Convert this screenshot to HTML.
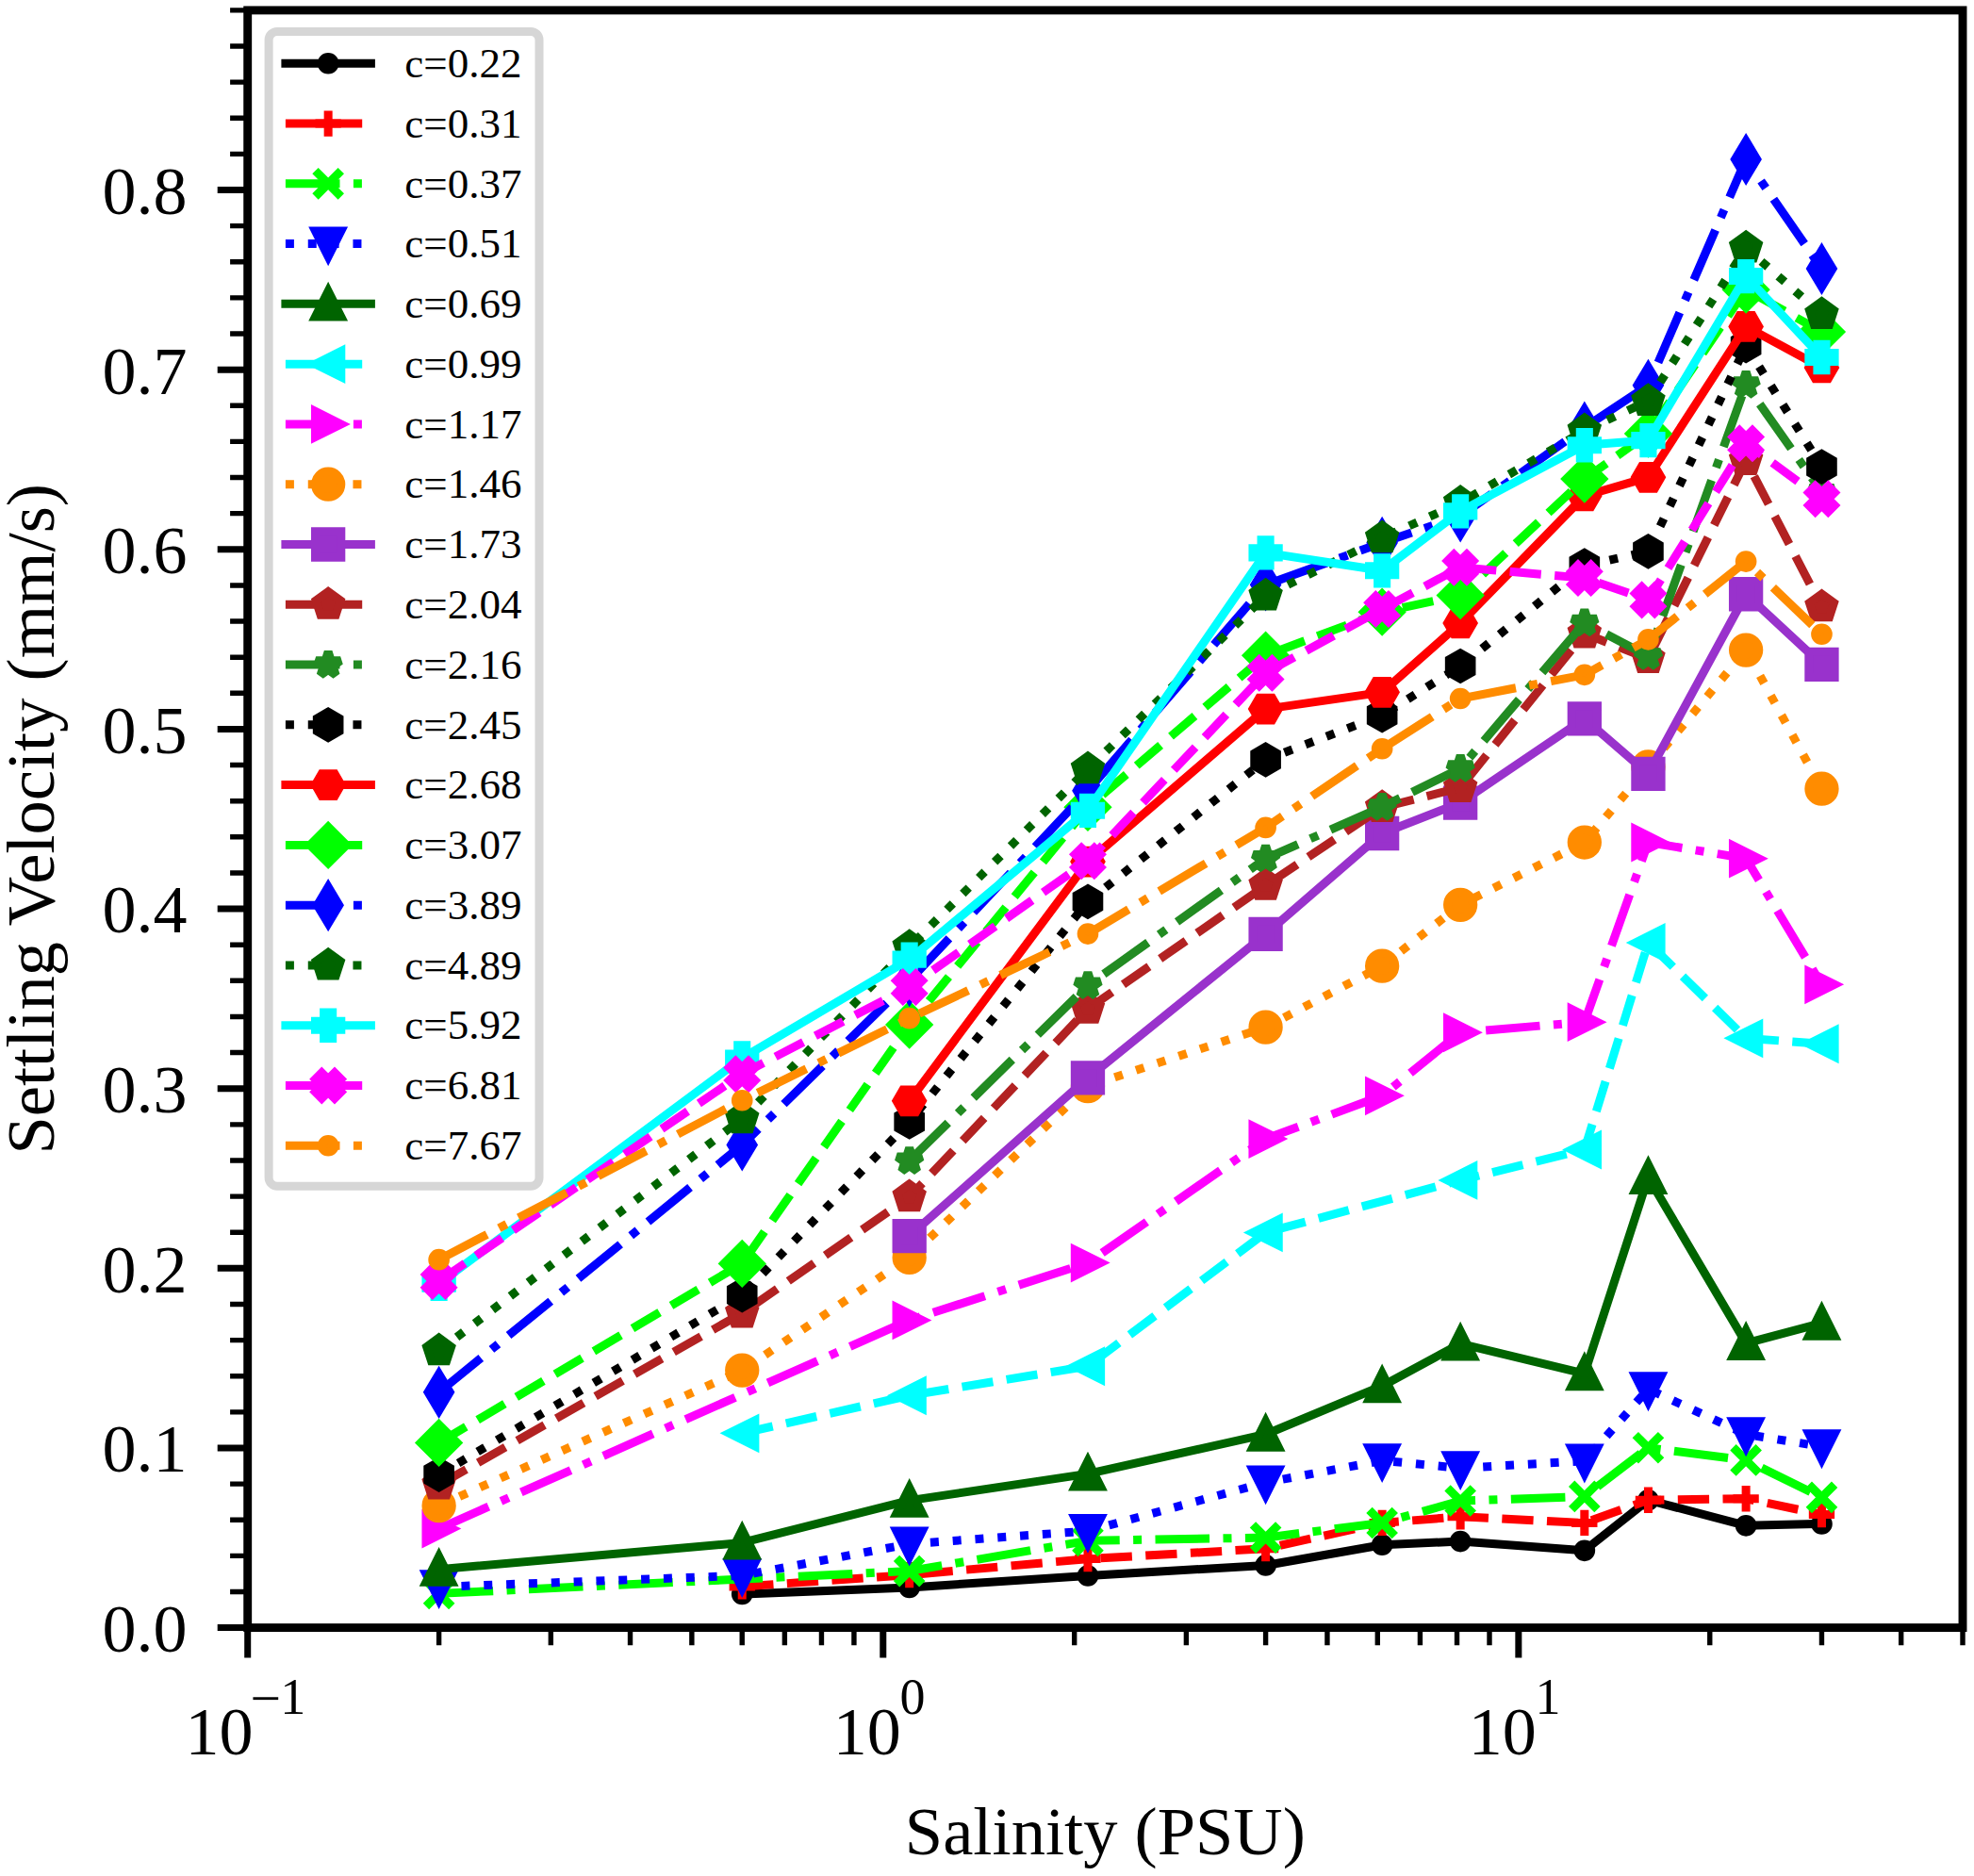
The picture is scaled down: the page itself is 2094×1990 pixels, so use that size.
<!DOCTYPE html>
<html lang="en"><head><meta charset="utf-8"><title>Settling Velocity vs Salinity</title>
<style>html,body{margin:0;padding:0;background:#fff}svg{display:block}text{font-family:"Liberation Serif", "Times New Roman", serif;fill:#000}</style>
</head><body>
<svg width="2094" height="1990" viewBox="0 0 2094 1990">
<rect width="2094" height="1990" fill="#fff"/>
<defs>
<g id="m-star"><polygon points="0,-13.65 -3.06,-4.22 -12.98,-4.22 -4.96,1.61 -8.02,11.04 -0,5.21 8.02,11.04 4.96,1.61 12.98,-4.22 3.06,-4.22" fill="currentColor" stroke="currentColor" stroke-width="9" stroke-linejoin="miter" stroke-miterlimit="3"/></g>
<g id="m-plus"><path d="M-13.65,0H13.65M0,-13.65V13.65" fill="none" stroke="currentColor" stroke-width="9"/></g>
<g id="m-dot"><circle r="6.83" fill="currentColor" stroke="currentColor" stroke-width="9" stroke-linejoin="miter" stroke-miterlimit="3"/></g>
<g id="m-tl"><polygon points="-13.65,0 13.65,-13.65 13.65,13.65" fill="currentColor" stroke="currentColor" stroke-width="9" stroke-linejoin="miter" stroke-miterlimit="3"/></g>
<g id="m-tr"><polygon points="13.65,0 -13.65,-13.65 -13.65,13.65" fill="currentColor" stroke="currentColor" stroke-width="9" stroke-linejoin="miter" stroke-miterlimit="3"/></g>
<g id="m-D"><polygon points="0,-19.3 19.3,0 0,19.3 -19.3,0" fill="currentColor" stroke="currentColor" stroke-width="9" stroke-linejoin="miter" stroke-miterlimit="3"/></g>
<g id="m-h2"><polygon points="13.65,-0 6.83,-11.82 -6.82,-11.82 -13.65,-0 -6.83,11.82 6.83,11.82" fill="currentColor" stroke="currentColor" stroke-width="9" stroke-linejoin="miter" stroke-miterlimit="3"/></g>
<g id="m-P"><polygon points="-4.55,-13.65 4.55,-13.65 4.55,-4.55 13.65,-4.55 13.65,4.55 4.55,4.55 4.55,13.65 -4.55,13.65 -4.55,4.55 -13.65,4.55 -13.65,-4.55 -4.55,-4.55" fill="currentColor" stroke="currentColor" stroke-width="9" stroke-linejoin="miter" stroke-miterlimit="3"/></g>
<g id="m-X"><polygon points="-6.83,-13.65 0,-6.83 6.83,-13.65 13.65,-6.83 6.83,0 13.65,6.83 6.83,13.65 0,6.83 -6.83,13.65 -13.65,6.83 -6.83,0 -13.65,-6.83" fill="currentColor" stroke="currentColor" stroke-width="9" stroke-linejoin="miter" stroke-miterlimit="3"/></g>
<g id="m-tu"><polygon points="0,-13.65 -13.65,13.65 13.65,13.65" fill="currentColor" stroke="currentColor" stroke-width="9" stroke-linejoin="miter" stroke-miterlimit="3"/></g>
<g id="m-d"><polygon points="0,-19.3 11.58,0 0,19.3 -11.58,0" fill="currentColor" stroke="currentColor" stroke-width="9" stroke-linejoin="miter" stroke-miterlimit="3"/></g>
<g id="m-h1"><polygon points="0,-13.65 -11.82,-6.82 -11.82,6.83 -0,13.65 11.82,6.83 11.82,-6.83" fill="currentColor" stroke="currentColor" stroke-width="9" stroke-linejoin="miter" stroke-miterlimit="3"/></g>
<g id="m-o"><circle r="13.65" fill="currentColor" stroke="currentColor" stroke-width="9" stroke-linejoin="miter" stroke-miterlimit="3"/></g>
<g id="m-pen"><polygon points="0,-13.65 -12.98,-4.22 -8.02,11.04 8.02,11.04 12.98,-4.22" fill="currentColor" stroke="currentColor" stroke-width="9" stroke-linejoin="miter" stroke-miterlimit="3"/></g>
<g id="m-sq"><polygon points="-13.65,-13.65 13.65,-13.65 13.65,13.65 -13.65,13.65" fill="currentColor" stroke="currentColor" stroke-width="9" stroke-linejoin="miter" stroke-miterlimit="3"/></g>
<g id="m-td"><polygon points="0,13.65 -13.65,-13.65 13.65,-13.65" fill="currentColor" stroke="currentColor" stroke-width="9" stroke-linejoin="miter" stroke-miterlimit="3"/></g>
<g id="m-x"><path d="M-13.65,-13.65L13.65,13.65M-13.65,13.65L13.65,-13.65" fill="none" stroke="currentColor" stroke-width="9"/></g>
</defs>
<g id="data" fill="none" stroke-width="9" stroke-linejoin="round">
<g color="#000000"><path d="M787.23,1690.95L964.67,1683.9L1153.97,1671.51L1342.6,1660.45L1466.14,1638.72L1549.16,1635.1L1680.82,1644.82L1748.44,1591.25L1852.12,1618.32L1932.46,1616.41" stroke="#000000" stroke-linecap="square"/>
<use href="#m-dot" x="787.23" y="1690.95"/><use href="#m-dot" x="964.67" y="1683.9"/><use href="#m-dot" x="1153.97" y="1671.51"/><use href="#m-dot" x="1342.6" y="1660.45"/><use href="#m-dot" x="1466.14" y="1638.72"/><use href="#m-dot" x="1549.16" y="1635.1"/><use href="#m-dot" x="1680.82" y="1644.82"/><use href="#m-dot" x="1748.44" y="1591.25"/><use href="#m-dot" x="1852.12" y="1618.32"/><use href="#m-dot" x="1932.46" y="1616.41"/>
</g>
<g color="#ff0000"><path d="M787.23,1682.94L964.67,1670.55L1153.97,1653.59L1342.6,1642.72L1466.14,1615.46L1549.16,1608.79L1680.82,1615.46L1748.44,1591.25L1852.12,1589.73L1932.46,1606.5" stroke="#ff0000" stroke-dasharray="33.3,14.4"/>
<use href="#m-plus" x="787.23" y="1682.94"/><use href="#m-plus" x="964.67" y="1670.55"/><use href="#m-plus" x="1153.97" y="1653.59"/><use href="#m-plus" x="1342.6" y="1642.72"/><use href="#m-plus" x="1466.14" y="1615.46"/><use href="#m-plus" x="1549.16" y="1608.79"/><use href="#m-plus" x="1680.82" y="1615.46"/><use href="#m-plus" x="1748.44" y="1591.25"/><use href="#m-plus" x="1852.12" y="1589.73"/><use href="#m-plus" x="1932.46" y="1606.5"/>
</g>
<g color="#00ff00"><path d="M465.62,1690.38L964.67,1666.55L1153.97,1634.33L1342.6,1631.09L1466.14,1615.46L1549.16,1592.01L1680.82,1587.44L1748.44,1535.78L1852.12,1548.93L1932.46,1588.39" stroke="#00ff00" stroke-dasharray="57.6,14.4,9,14.4"/>
<use href="#m-x" x="465.62" y="1690.38"/><use href="#m-x" x="964.67" y="1666.55"/><use href="#m-x" x="1153.97" y="1634.33"/><use href="#m-x" x="1342.6" y="1631.09"/><use href="#m-x" x="1466.14" y="1615.46"/><use href="#m-x" x="1549.16" y="1592.01"/><use href="#m-x" x="1680.82" y="1587.44"/><use href="#m-x" x="1748.44" y="1535.78"/><use href="#m-x" x="1852.12" y="1548.93"/><use href="#m-x" x="1932.46" y="1588.39"/>
</g>
<g color="#0000ff"><path d="M465.62,1683.33L787.23,1671.32L964.67,1637.76L1153.97,1624.04L1342.6,1572.57L1466.14,1549.31L1549.16,1557.32L1680.82,1549.69L1748.44,1473.44L1852.12,1521.48L1932.46,1534.44" stroke="#0000ff" stroke-dasharray="9,14.85"/>
<use href="#m-td" x="465.62" y="1683.33"/><use href="#m-td" x="787.23" y="1671.32"/><use href="#m-td" x="964.67" y="1637.76"/><use href="#m-td" x="1153.97" y="1624.04"/><use href="#m-td" x="1342.6" y="1572.57"/><use href="#m-td" x="1466.14" y="1549.31"/><use href="#m-td" x="1549.16" y="1557.32"/><use href="#m-td" x="1680.82" y="1549.69"/><use href="#m-td" x="1748.44" y="1473.44"/><use href="#m-td" x="1852.12" y="1521.48"/><use href="#m-td" x="1932.46" y="1534.44"/>
</g>
<g color="#006400"><path d="M465.62,1664.64L787.23,1636.43L964.67,1591.63L1153.97,1563.42L1342.6,1521.48L1466.14,1470.2L1549.16,1425.4L1680.82,1457.04L1748.44,1248.87L1852.12,1424.83L1932.46,1403.48" stroke="#006400" stroke-linecap="square"/>
<use href="#m-tu" x="465.62" y="1664.64"/><use href="#m-tu" x="787.23" y="1636.43"/><use href="#m-tu" x="964.67" y="1591.63"/><use href="#m-tu" x="1153.97" y="1563.42"/><use href="#m-tu" x="1342.6" y="1521.48"/><use href="#m-tu" x="1466.14" y="1470.2"/><use href="#m-tu" x="1549.16" y="1425.4"/><use href="#m-tu" x="1680.82" y="1457.04"/><use href="#m-tu" x="1748.44" y="1248.87"/><use href="#m-tu" x="1852.12" y="1424.83"/><use href="#m-tu" x="1932.46" y="1403.48"/>
</g>
<g color="#00ffff"><path d="M787.23,1520.33L964.67,1480.3L1153.97,1449.23L1342.6,1307.4L1549.16,1251.92L1680.82,1219.52L1748.44,999.91L1852.12,1101.32L1932.46,1107.23" stroke="#00ffff" stroke-dasharray="33.3,14.4"/>
<use href="#m-tl" x="787.23" y="1520.33"/><use href="#m-tl" x="964.67" y="1480.3"/><use href="#m-tl" x="1153.97" y="1449.23"/><use href="#m-tl" x="1342.6" y="1307.4"/><use href="#m-tl" x="1549.16" y="1251.92"/><use href="#m-tl" x="1680.82" y="1219.52"/><use href="#m-tl" x="1748.44" y="999.91"/><use href="#m-tl" x="1852.12" y="1101.32"/><use href="#m-tl" x="1932.46" y="1107.23"/>
</g>
<g color="#ff00ff"><path d="M465.62,1621.56L964.67,1400.43L1153.97,1339.61L1342.6,1208.08L1466.14,1162.33L1549.16,1095.22L1680.82,1084.17L1748.44,893.53L1852.12,910.69L1932.46,1044.32" stroke="#ff00ff" stroke-dasharray="57.6,14.4,9,14.4"/>
<use href="#m-tr" x="465.62" y="1621.56"/><use href="#m-tr" x="964.67" y="1400.43"/><use href="#m-tr" x="1153.97" y="1339.61"/><use href="#m-tr" x="1342.6" y="1208.08"/><use href="#m-tr" x="1466.14" y="1162.33"/><use href="#m-tr" x="1549.16" y="1095.22"/><use href="#m-tr" x="1680.82" y="1084.17"/><use href="#m-tr" x="1748.44" y="893.53"/><use href="#m-tr" x="1852.12" y="910.69"/><use href="#m-tr" x="1932.46" y="1044.32"/>
</g>
<g color="#ff8c00"><path d="M465.62,1597.16L787.23,1453.61L964.67,1333.9L1153.97,1152.22L1342.6,1089.69L1466.14,1024.69L1549.16,959.87L1680.82,893.53L1748.44,813.47L1852.12,689.55L1932.46,836.72" stroke="#ff8c00" stroke-dasharray="9,14.85"/>
<use href="#m-o" x="465.62" y="1597.16"/><use href="#m-o" x="787.23" y="1453.61"/><use href="#m-o" x="964.67" y="1333.9"/><use href="#m-o" x="1153.97" y="1152.22"/><use href="#m-o" x="1342.6" y="1089.69"/><use href="#m-o" x="1466.14" y="1024.69"/><use href="#m-o" x="1549.16" y="959.87"/><use href="#m-o" x="1680.82" y="893.53"/><use href="#m-o" x="1748.44" y="813.47"/><use href="#m-o" x="1852.12" y="689.55"/><use href="#m-o" x="1932.46" y="836.72"/>
</g>
<g color="#9932cc"><path d="M964.67,1311.21L1153.97,1143.45L1342.6,990.95L1466.14,884L1549.16,851.59L1680.82,762.38L1748.44,820.9L1852.12,630.27L1932.46,704.81" stroke="#9932cc" stroke-linecap="square"/>
<use href="#m-sq" x="964.67" y="1311.21"/><use href="#m-sq" x="1153.97" y="1143.45"/><use href="#m-sq" x="1342.6" y="990.95"/><use href="#m-sq" x="1466.14" y="884"/><use href="#m-sq" x="1549.16" y="851.59"/><use href="#m-sq" x="1680.82" y="762.38"/><use href="#m-sq" x="1748.44" y="820.9"/><use href="#m-sq" x="1852.12" y="630.27"/><use href="#m-sq" x="1932.46" y="704.81"/>
</g>
<g color="#b22222"><path d="M465.62,1575.05L787.23,1392.99L964.67,1269.65L1153.97,1070.25L1342.6,939.28L1466.14,856.55L1549.16,835.58L1680.82,672.02L1748.44,698.51L1852.12,488.44L1932.46,643.8" stroke="#b22222" stroke-dasharray="33.3,14.4"/>
<use href="#m-pen" x="465.62" y="1575.05"/><use href="#m-pen" x="787.23" y="1392.99"/><use href="#m-pen" x="964.67" y="1269.65"/><use href="#m-pen" x="1153.97" y="1070.25"/><use href="#m-pen" x="1342.6" y="939.28"/><use href="#m-pen" x="1466.14" y="856.55"/><use href="#m-pen" x="1549.16" y="835.58"/><use href="#m-pen" x="1680.82" y="672.02"/><use href="#m-pen" x="1748.44" y="698.51"/><use href="#m-pen" x="1852.12" y="488.44"/><use href="#m-pen" x="1932.46" y="643.8"/>
</g>
<g color="#228b22"><path d="M964.67,1231.33L1153.97,1045.28L1342.6,910.69L1466.14,855.98L1549.16,814.99L1680.82,660.58L1748.44,696.04L1852.12,407.99L1932.46,521.8" stroke="#228b22" stroke-dasharray="57.6,14.4,9,14.4"/>
<use href="#m-star" x="964.67" y="1231.33"/><use href="#m-star" x="1153.97" y="1045.28"/><use href="#m-star" x="1342.6" y="910.69"/><use href="#m-star" x="1466.14" y="855.98"/><use href="#m-star" x="1549.16" y="814.99"/><use href="#m-star" x="1680.82" y="660.58"/><use href="#m-star" x="1748.44" y="696.04"/><use href="#m-star" x="1852.12" y="407.99"/><use href="#m-star" x="1932.46" y="521.8"/>
</g>
<g color="#000000"><path d="M465.62,1564.18L787.23,1373.55L964.67,1189.97L1153.97,956.44L1342.6,805.84L1466.14,758.75L1549.16,706.52L1680.82,600.15L1748.44,584.9L1852.12,366.62L1932.46,495.11" stroke="#000000" stroke-dasharray="9,14.85"/>
<use href="#m-h1" x="465.62" y="1564.18"/><use href="#m-h1" x="787.23" y="1373.55"/><use href="#m-h1" x="964.67" y="1189.97"/><use href="#m-h1" x="1153.97" y="956.44"/><use href="#m-h1" x="1342.6" y="805.84"/><use href="#m-h1" x="1466.14" y="758.75"/><use href="#m-h1" x="1549.16" y="706.52"/><use href="#m-h1" x="1680.82" y="600.15"/><use href="#m-h1" x="1748.44" y="584.9"/><use href="#m-h1" x="1852.12" y="366.62"/><use href="#m-h1" x="1932.46" y="495.11"/>
</g>
<g color="#ff0000"><path d="M964.67,1167.85L1153.97,914.12L1342.6,752.08L1466.14,734.35L1549.16,660.96L1680.82,525.99L1748.44,506.36L1852.12,346.41L1932.46,389.88" stroke="#ff0000" stroke-linecap="square"/>
<use href="#m-h2" x="964.67" y="1167.85"/><use href="#m-h2" x="1153.97" y="914.12"/><use href="#m-h2" x="1342.6" y="752.08"/><use href="#m-h2" x="1466.14" y="734.35"/><use href="#m-h2" x="1549.16" y="660.96"/><use href="#m-h2" x="1680.82" y="525.99"/><use href="#m-h2" x="1748.44" y="506.36"/><use href="#m-h2" x="1852.12" y="346.41"/><use href="#m-h2" x="1932.46" y="389.88"/>
</g>
<g color="#00ff00"><path d="M465.62,1530.44L787.23,1340.38L964.67,1087.03L1153.97,856.36L1342.6,695.27L1466.14,649.14L1549.16,631.6L1680.82,508.07L1748.44,460.03L1852.12,307.14L1932.46,351.94" stroke="#00ff00" stroke-dasharray="33.3,14.4"/>
<use href="#m-D" x="465.62" y="1530.44"/><use href="#m-D" x="787.23" y="1340.38"/><use href="#m-D" x="964.67" y="1087.03"/><use href="#m-D" x="1153.97" y="856.36"/><use href="#m-D" x="1342.6" y="695.27"/><use href="#m-D" x="1466.14" y="649.14"/><use href="#m-D" x="1549.16" y="631.6"/><use href="#m-D" x="1680.82" y="508.07"/><use href="#m-D" x="1748.44" y="460.03"/><use href="#m-D" x="1852.12" y="307.14"/><use href="#m-D" x="1932.46" y="351.94"/>
</g>
<g color="#0000ff"><path d="M465.62,1476.87L787.23,1214.56L964.67,1040.32L1153.97,838.63L1342.6,620.35L1466.14,575.75L1549.16,547.53L1680.82,453.55L1748.44,408.75L1852.12,168.94L1932.46,285.03" stroke="#0000ff" stroke-dasharray="57.6,14.4,9,14.4"/>
<use href="#m-d" x="465.62" y="1476.87"/><use href="#m-d" x="787.23" y="1214.56"/><use href="#m-d" x="964.67" y="1040.32"/><use href="#m-d" x="1153.97" y="838.63"/><use href="#m-d" x="1342.6" y="620.35"/><use href="#m-d" x="1466.14" y="575.75"/><use href="#m-d" x="1549.16" y="547.53"/><use href="#m-d" x="1680.82" y="453.55"/><use href="#m-d" x="1748.44" y="408.75"/><use href="#m-d" x="1852.12" y="168.94"/><use href="#m-d" x="1932.46" y="285.03"/>
</g>
<g color="#006400"><path d="M465.62,1432.83L787.23,1186.73L964.67,1004.48L1153.97,815.75L1342.6,631.98L1466.14,570.79L1549.16,533.24L1680.82,456.79L1748.44,425.34L1852.12,262.92L1932.46,333.45" stroke="#006400" stroke-dasharray="9,14.85"/>
<use href="#m-pen" x="465.62" y="1432.83"/><use href="#m-pen" x="787.23" y="1186.73"/><use href="#m-pen" x="964.67" y="1004.48"/><use href="#m-pen" x="1153.97" y="815.75"/><use href="#m-pen" x="1342.6" y="631.98"/><use href="#m-pen" x="1466.14" y="570.79"/><use href="#m-pen" x="1549.16" y="533.24"/><use href="#m-pen" x="1680.82" y="456.79"/><use href="#m-pen" x="1748.44" y="425.34"/><use href="#m-pen" x="1852.12" y="262.92"/><use href="#m-pen" x="1932.46" y="333.45"/>
</g>
<g color="#00ffff"><path d="M465.62,1361.73L787.23,1122.48L964.67,1017.63L1153.97,859.79L1342.6,586.42L1466.14,605.29L1549.16,542.39L1680.82,472.23L1748.44,467.09L1852.12,293.04L1932.46,379.01" stroke="#00ffff" stroke-linecap="square"/>
<use href="#m-P" x="465.62" y="1361.73"/><use href="#m-P" x="787.23" y="1122.48"/><use href="#m-P" x="964.67" y="1017.63"/><use href="#m-P" x="1153.97" y="859.79"/><use href="#m-P" x="1342.6" y="586.42"/><use href="#m-P" x="1466.14" y="605.29"/><use href="#m-P" x="1549.16" y="542.39"/><use href="#m-P" x="1680.82" y="472.23"/><use href="#m-P" x="1748.44" y="467.09"/><use href="#m-P" x="1852.12" y="293.04"/><use href="#m-P" x="1932.46" y="379.01"/>
</g>
<g color="#ff00ff"><path d="M465.62,1358.87L787.23,1139.26L964.67,1046.99L1153.97,913.17L1342.6,713.77L1466.14,646.09L1549.16,601.86L1680.82,613.11L1748.44,636.37L1852.12,470.33L1932.46,529.23" stroke="#ff00ff" stroke-dasharray="33.3,14.4"/>
<use href="#m-X" x="465.62" y="1358.87"/><use href="#m-X" x="787.23" y="1139.26"/><use href="#m-X" x="964.67" y="1046.99"/><use href="#m-X" x="1153.97" y="913.17"/><use href="#m-X" x="1342.6" y="713.77"/><use href="#m-X" x="1466.14" y="646.09"/><use href="#m-X" x="1549.16" y="601.86"/><use href="#m-X" x="1680.82" y="613.11"/><use href="#m-X" x="1748.44" y="636.37"/><use href="#m-X" x="1852.12" y="470.33"/><use href="#m-X" x="1932.46" y="529.23"/>
</g>
<g color="#ff8c00"><path d="M465.62,1336.18L787.23,1167.28L964.67,1080.16L1153.97,990.56L1342.6,877.9L1466.14,794.21L1549.16,741.03L1680.82,715.86L1748.44,678.31L1852.12,595.57L1932.46,672.78" stroke="#ff8c00" stroke-dasharray="57.6,14.4,9,14.4"/>
<use href="#m-dot" x="465.62" y="1336.18"/><use href="#m-dot" x="787.23" y="1167.28"/><use href="#m-dot" x="964.67" y="1080.16"/><use href="#m-dot" x="1153.97" y="990.56"/><use href="#m-dot" x="1342.6" y="877.9"/><use href="#m-dot" x="1466.14" y="794.21"/><use href="#m-dot" x="1549.16" y="741.03"/><use href="#m-dot" x="1680.82" y="715.86"/><use href="#m-dot" x="1748.44" y="678.31"/><use href="#m-dot" x="1852.12" y="595.57"/><use href="#m-dot" x="1932.46" y="672.78"/>
</g>
</g>
<path d="M262.7,1726.6h-32M262.7,1535.97h-32M262.7,1345.33h-32M262.7,1154.7h-32M262.7,964.07h-32M262.7,773.43h-32M262.7,582.8h-32M262.7,392.17h-32M262.7,201.53h-32M262.7,1726.6v32M936.77,1726.6v32M1610.84,1726.6v32" stroke="#000" stroke-width="7" fill="none"/>
<path d="M262.7,1688.47h-18.6M262.7,1650.35h-18.6M262.7,1612.22h-18.6M262.7,1574.09h-18.6M262.7,1497.84h-18.6M262.7,1459.71h-18.6M262.7,1421.59h-18.6M262.7,1383.46h-18.6M262.7,1307.21h-18.6M262.7,1269.08h-18.6M262.7,1230.95h-18.6M262.7,1192.83h-18.6M262.7,1116.57h-18.6M262.7,1078.45h-18.6M262.7,1040.32h-18.6M262.7,1002.19h-18.6M262.7,925.94h-18.6M262.7,887.81h-18.6M262.7,849.69h-18.6M262.7,811.56h-18.6M262.7,735.31h-18.6M262.7,697.18h-18.6M262.7,659.05h-18.6M262.7,620.93h-18.6M262.7,544.67h-18.6M262.7,506.55h-18.6M262.7,468.42h-18.6M262.7,430.29h-18.6M262.7,354.04h-18.6M262.7,315.91h-18.6M262.7,277.79h-18.6M262.7,239.66h-18.6M262.7,163.41h-18.6M262.7,125.28h-18.6M262.7,87.15h-18.6M262.7,49.03h-18.6M262.7,10.9h-18.6M465.62,1726.6v18.6M584.31,1726.6v18.6M668.53,1726.6v18.6M733.86,1726.6v18.6M787.23,1726.6v18.6M832.36,1726.6v18.6M871.45,1726.6v18.6M905.93,1726.6v18.6M1139.69,1726.6v18.6M1258.39,1726.6v18.6M1342.6,1726.6v18.6M1407.93,1726.6v18.6M1461.3,1726.6v18.6M1506.43,1726.6v18.6M1545.52,1726.6v18.6M1580,1726.6v18.6M1813.76,1726.6v18.6M1932.46,1726.6v18.6M2016.68,1726.6v18.6M2082,1726.6v18.6" stroke="#000" stroke-width="5.4" fill="none"/>
<rect x="262.7" y="10.9" width="1819.3" height="1715.7" fill="none" stroke="#000" stroke-width="8.9"/>
<g font-size="72">
<text x="198.4" y="1752" text-anchor="end">0.0</text>
<text x="198.4" y="1561.37" text-anchor="end">0.1</text>
<text x="198.4" y="1370.73" text-anchor="end">0.2</text>
<text x="198.4" y="1180.1" text-anchor="end">0.3</text>
<text x="198.4" y="989.47" text-anchor="end">0.4</text>
<text x="198.4" y="798.83" text-anchor="end">0.5</text>
<text x="198.4" y="608.2" text-anchor="end">0.6</text>
<text x="198.4" y="417.57" text-anchor="end">0.7</text>
<text x="198.4" y="226.93" text-anchor="end">0.8</text>
<text x="196.6" y="1861"><tspan>10</tspan><tspan font-size="57.5" dy="-40.3" dx="-3.2">−</tspan><tspan font-size="54" dy="-2.5" dx="-0.6">1</tspan></text>
<text x="883.67" y="1861"><tspan>10</tspan><tspan font-size="54" dy="-42.8" dx="-1.2">0</tspan></text>
<text x="1557.74" y="1861"><tspan>10</tspan><tspan font-size="54" dy="-42.8" dx="-1.2">1</tspan></text>
</g>
<text x="1172.35" y="1967.3" font-size="72.5" text-anchor="middle">Salinity (PSU)</text>
<text transform="translate(57,868.75) rotate(-90)" font-size="72.5" text-anchor="middle">Settling Velocity (mm/s)</text>
<rect x="285.1" y="33.4" width="286.9" height="1224.8" rx="9" ry="9" fill="#fff" fill-opacity="0.8" stroke="#d6d6d6" stroke-width="9"/>
<g id="legend" font-size="45" fill="none" stroke-width="9">
<g color="#000000"><path d="M302.9,67.25H393.4" stroke="#000000" stroke-linecap="square"/><use href="#m-dot" x="348.15" y="67.25"/></g>
<text x="429.3" y="81.95" fill="#000" stroke="none">c=0.22</text>
<g color="#ff0000"><path d="M302.9,131.03H384.2" stroke="#ff0000"/><use href="#m-plus" x="348.15" y="131.03"/></g>
<text x="429.3" y="145.73" fill="#000" stroke="none">c=0.31</text>
<g color="#00ff00"><path d="M302.9,194.81H393.4" stroke="#00ff00" stroke-dasharray="57.6,14.4,9,14.4"/><use href="#m-x" x="348.15" y="194.81"/></g>
<text x="429.3" y="209.51" fill="#000" stroke="none">c=0.37</text>
<g color="#0000ff"><path d="M302.9,258.59H393.4" stroke="#0000ff" stroke-dasharray="9,14.85"/><use href="#m-td" x="348.15" y="258.59"/></g>
<text x="429.3" y="273.29" fill="#000" stroke="none">c=0.51</text>
<g color="#006400"><path d="M302.9,322.37H393.4" stroke="#006400" stroke-linecap="square"/><use href="#m-tu" x="348.15" y="322.37"/></g>
<text x="429.3" y="337.07" fill="#000" stroke="none">c=0.69</text>
<g color="#00ffff"><path d="M302.9,386.15H384.2" stroke="#00ffff"/><use href="#m-tl" x="348.15" y="386.15"/></g>
<text x="429.3" y="400.85" fill="#000" stroke="none">c=0.99</text>
<g color="#ff00ff"><path d="M302.9,449.93H393.4" stroke="#ff00ff" stroke-dasharray="57.6,14.4,9,14.4"/><use href="#m-tr" x="348.15" y="449.93"/></g>
<text x="429.3" y="464.63" fill="#000" stroke="none">c=1.17</text>
<g color="#ff8c00"><path d="M302.9,513.71H393.4" stroke="#ff8c00" stroke-dasharray="9,14.85"/><use href="#m-o" x="348.15" y="513.71"/></g>
<text x="429.3" y="528.41" fill="#000" stroke="none">c=1.46</text>
<g color="#9932cc"><path d="M302.9,577.49H393.4" stroke="#9932cc" stroke-linecap="square"/><use href="#m-sq" x="348.15" y="577.49"/></g>
<text x="429.3" y="592.19" fill="#000" stroke="none">c=1.73</text>
<g color="#b22222"><path d="M302.9,641.27H384.2" stroke="#b22222"/><use href="#m-pen" x="348.15" y="641.27"/></g>
<text x="429.3" y="655.97" fill="#000" stroke="none">c=2.04</text>
<g color="#228b22"><path d="M302.9,705.05H393.4" stroke="#228b22" stroke-dasharray="57.6,14.4,9,14.4"/><use href="#m-star" x="348.15" y="705.05"/></g>
<text x="429.3" y="719.75" fill="#000" stroke="none">c=2.16</text>
<g color="#000000"><path d="M302.9,768.83H393.4" stroke="#000000" stroke-dasharray="9,14.85"/><use href="#m-h1" x="348.15" y="768.83"/></g>
<text x="429.3" y="783.53" fill="#000" stroke="none">c=2.45</text>
<g color="#ff0000"><path d="M302.9,832.61H393.4" stroke="#ff0000" stroke-linecap="square"/><use href="#m-h2" x="348.15" y="832.61"/></g>
<text x="429.3" y="847.31" fill="#000" stroke="none">c=2.68</text>
<g color="#00ff00"><path d="M302.9,896.39H384.2" stroke="#00ff00"/><use href="#m-D" x="348.15" y="896.39"/></g>
<text x="429.3" y="911.09" fill="#000" stroke="none">c=3.07</text>
<g color="#0000ff"><path d="M302.9,960.17H393.4" stroke="#0000ff" stroke-dasharray="57.6,14.4,9,14.4"/><use href="#m-d" x="348.15" y="960.17"/></g>
<text x="429.3" y="974.87" fill="#000" stroke="none">c=3.89</text>
<g color="#006400"><path d="M302.9,1023.95H393.4" stroke="#006400" stroke-dasharray="9,14.85"/><use href="#m-pen" x="348.15" y="1023.95"/></g>
<text x="429.3" y="1038.65" fill="#000" stroke="none">c=4.89</text>
<g color="#00ffff"><path d="M302.9,1087.73H393.4" stroke="#00ffff" stroke-linecap="square"/><use href="#m-P" x="348.15" y="1087.73"/></g>
<text x="429.3" y="1102.43" fill="#000" stroke="none">c=5.92</text>
<g color="#ff00ff"><path d="M302.9,1151.51H384.2" stroke="#ff00ff"/><use href="#m-X" x="348.15" y="1151.51"/></g>
<text x="429.3" y="1166.21" fill="#000" stroke="none">c=6.81</text>
<g color="#ff8c00"><path d="M302.9,1215.29H393.4" stroke="#ff8c00" stroke-dasharray="57.6,14.4,9,14.4"/><use href="#m-dot" x="348.15" y="1215.29"/></g>
<text x="429.3" y="1229.99" fill="#000" stroke="none">c=7.67</text>
</g>
</svg>
</body></html>
